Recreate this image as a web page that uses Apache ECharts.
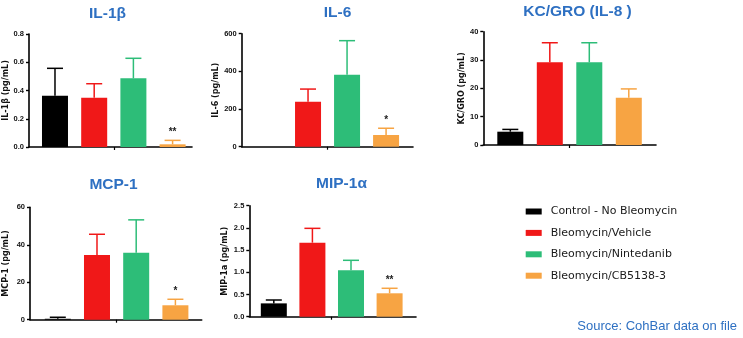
<!DOCTYPE html>
<html>
<head>
<meta charset="utf-8">
<script src="https://cdn.jsdelivr.net/npm/echarts@6/dist/echarts.min.js"></script>
<style>html,body{margin:0;padding:0;background:#fff}#c{width:743px;height:338px}</style>
</head>
<body>
<div id="c"></div>
<script>
// ---- data ----
const groups = ['Control - No Bleomycin', 'Bleomycin/Vehicle', 'Bleomycin/Nintedanib', 'Bleomycin/CB5138-3'];
const panelTitles = ['IL-1β', 'IL-6', 'KC/GRO (IL-8 )', 'MCP-1', 'MIP-1α'];
const axisNames = ['IL-1β (pg/mL)', 'IL-6 (pg/mL)', 'KC/GRO (pg/mL)', 'MCP-1 (pg/mL)', 'MIP-1a (pg/mL)'];
const il1bMean = [0.363, 0.349, 0.486, 0.019];
const il1bErr  = [0.557, 0.448, 0.628, 0.047];
const il6Mean  = [null, 239, 382, 62];
const il6Err   = [null, 306, 563, 98];
const kcMean   = [4.7, 29.2, 29.2, 16.7];
const kcErr    = [5.5, 36.1, 36.1, 19.8];
const mcpMean  = [0.5, 34.6, 35.8, 7.7];
const mcpErr   = [1.3, 45.6, 53.3, 10.9];
const mipMean  = [0.30, 1.667, 1.045, 0.527];
const mipErr   = [0.376, 1.99, 1.27, 0.64];
const il1bSig = ['', '', '', '**'];
const il6Sig  = ['', '', '', '*'];
const kcSig   = ['', '', '', ''];
const mcpSig  = ['', '', '', '*'];
const mipSig  = ['', '', '', '**'];
const yTickMax  = [0.8, 600, 40, 60, 2.5];
const yTickStep = [0.2, 200, 10, 20, 0.5];
const yTickDecimals = [1, 0, 0, 0, 1];
const sourceNote = 'Source: CohBar data on file';

// ---- styling / layout ----
const colors = ['#000000', '#f01818', '#2dbd78', '#f7a443'];
const grids = [
  {left: 29,    top: 34,    width: 163,   height: 113,  xmin: -0.663, xmax: 3.495, nameGap: 17, tx: 107.5, ty: 5.5},
  {left: 241.7, top: 33.7,  width: 171.3, height: 113,  xmin: -0.70,  xmax: 3.69,  nameGap: 21, tx: 337.5, ty: 5},
  {left: 483.3, top: 31.7,  width: 172.7, height: 113.3,xmin: -0.684, xmax: 3.689, nameGap: 16, tx: 577.5, ty: 4},
  {left: 30,    top: 207.3, width: 171.7, height: 112.4,xmin: -0.709, xmax: 3.671, nameGap: 20, tx: 113.5, ty: 176.5},
  {left: 249.3, top: 205.7, width: 166.7, height: 111,  xmin: -0.635, xmax: 3.684, nameGap: 20, tx: 341.5, ty: 175.5}
];
const means = [il1bMean, il6Mean, kcMean, mcpMean, mipMean];
const errs = [il1bErr, il6Err, kcErr, mcpErr, mipErr];
const sigs = [il1bSig, il6Sig, kcSig, mcpSig, mipSig];

const chart = echarts.init(document.getElementById('c'), null, {renderer: 'canvas'});

const option = {
  animation: false,
  backgroundColor: '#ffffff',
  title: [],
  grid: [],
  xAxis: [],
  yAxis: [],
  series: [],
  legend: {
    orient: 'vertical',
    left: 525.7,
    top: 205.5,
    itemWidth: 16,
    itemHeight: 6,
    itemGap: 9.4,
    padding: 0,
    icon: 'rect',
    data: groups,
    selectedMode: false,
    textStyle: {fontFamily: 'DejaVu Sans', fontSize: 11, color: '#1a1a1a', padding: [0, 0, 0, 4], lineHeight: 12}
  }
};

grids.forEach((g, p) => {
  option.grid.push({left: g.left, top: g.top, width: g.width, height: g.height, containLabel: false});
  option.title.push({
    text: panelTitles[p], left: g.tx, top: g.ty, textAlign: 'center', padding: 0,
    textStyle: {fontFamily: 'Liberation Sans', fontWeight: 'bold', fontSize: 15.5, color: '#2e70c2'}
  });
  option.xAxis.push({
    type: 'value', gridIndex: p, min: g.xmin, max: g.xmax,
    axisLine: {show: true, onZero: false, lineStyle: {color: '#000', width: 1.6}},
    axisTick: {show: true, customValues: [1.5], length: 3, lineStyle: {color: '#000', width: 1.2}},
    axisLabel: {show: false},
    splitLine: {show: false}
  });
  const dec = yTickDecimals[p];
  option.yAxis.push({
    type: 'value', gridIndex: p, min: 0, max: yTickMax[p], interval: yTickStep[p],
    name: axisNames[p], nameLocation: 'middle', nameGap: g.nameGap, nameRotate: 90,
    nameTextStyle: {fontFamily: 'DejaVu Sans', fontWeight: 'bold', fontSize: 8, color: '#111'},
    axisLine: {show: true, onZero: false, lineStyle: {color: '#000', width: 1.6}},
    axisTick: {show: true, length: 3, lineStyle: {color: '#000', width: 1.4}},
    axisLabel: {
      margin: 5, fontFamily: 'Liberation Sans', fontWeight: 'bold', fontSize: 7.5, color: '#111',
      formatter: v => v.toFixed(dec)
    },
    splitLine: {show: false}
  });
  groups.forEach((name, i) => {
    const v = means[p][i];
    option.series.push({
      type: 'bar', name: name, xAxisIndex: p, yAxisIndex: p,
      barWidth: 26, barGap: '-100%',
      itemStyle: {color: colors[i]},
      data: v == null ? [] : [[i, v]],
      z: 2
    });
  });
  const errData = [];
  means[p].forEach((m, i) => { if (m != null) errData.push([i, m, errs[p][i]]); });
  option.series.push({
    type: 'custom', xAxisIndex: p, yAxisIndex: p, z: 3,
    data: errData,
    encode: {x: 0, y: [1, 2]},
    renderItem: function (params, api) {
      const i = api.value(0);
      const top = api.coord([i, api.value(2)]);
      const base = api.coord([i, api.value(1)]);
      const c = colors[i];
      const children = [
        {type: 'line', shape: {x1: top[0], y1: base[1], x2: top[0], y2: top[1]}, style: {stroke: c, lineWidth: 1.5}},
        {type: 'line', shape: {x1: top[0] - 8, y1: top[1], x2: top[0] + 8, y2: top[1]}, style: {stroke: c, lineWidth: 1.5}}
      ];
      const s = sigs[p][i];
      if (s) {
        children.push({type: 'text', style: {text: s, x: top[0], y: top[1] - 8, textAlign: 'center', textVerticalAlign: 'middle',
          font: 'bold 10px "Liberation Sans"', fill: '#222'}});
      }
      return {type: 'group', children: children};
    }
  });
});

option.title.push({
  text: sourceNote, right: 6, top: 320, padding: 0,
  textStyle: {fontFamily: 'Liberation Sans', fontWeight: 'normal', fontSize: 13, color: '#2e70c2'}
});

chart.setOption(option);
</script>
</body>
</html>
